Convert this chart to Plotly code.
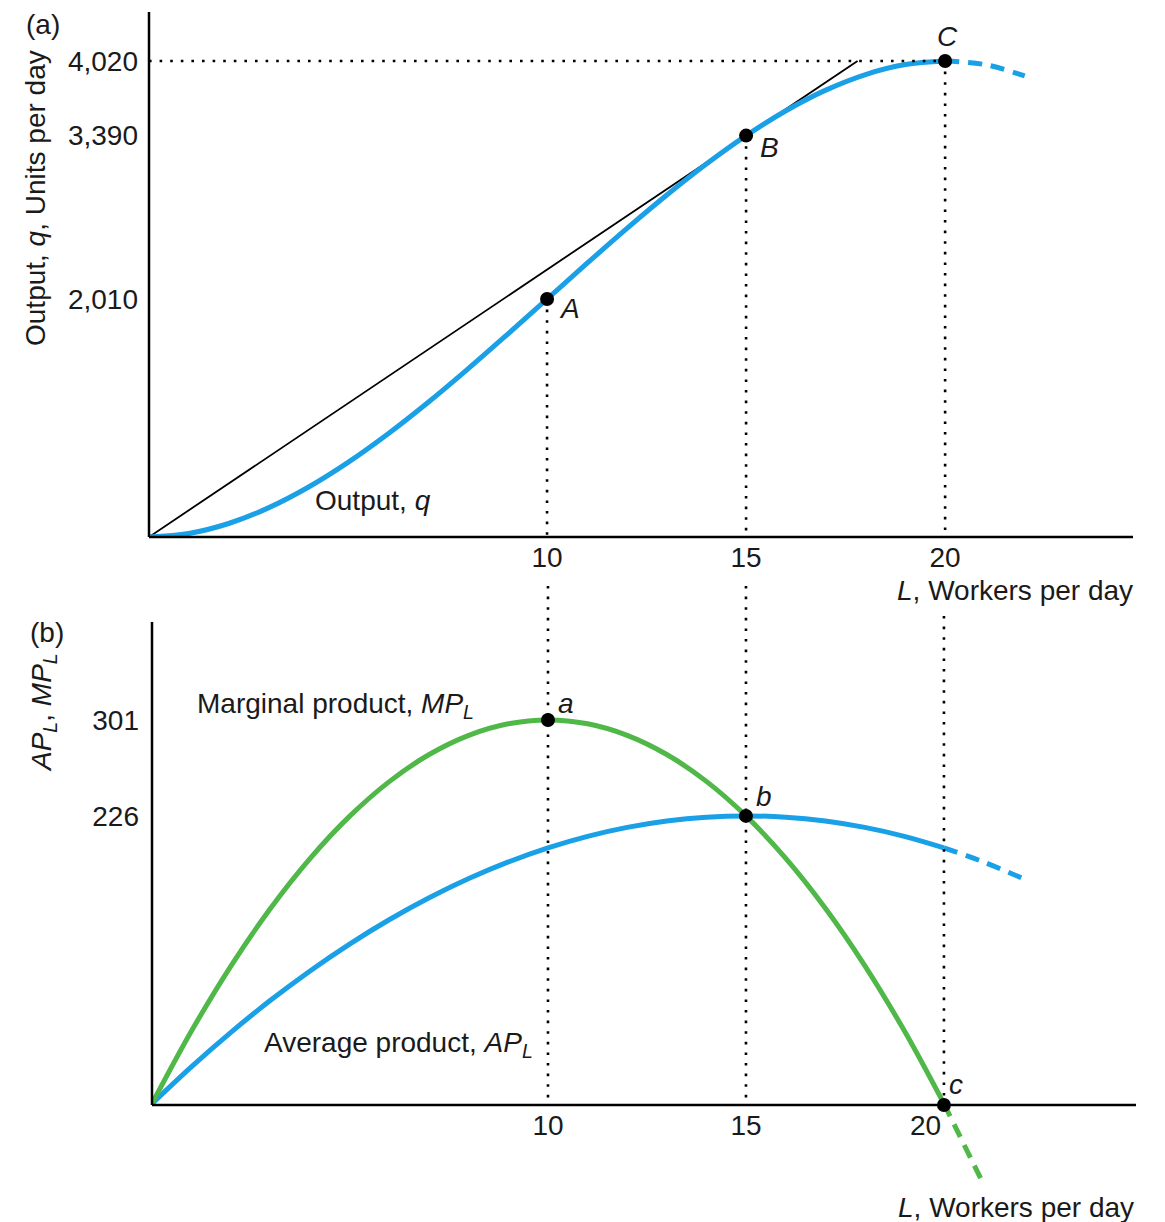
import plotly.graph_objects as go

# ---------------- data ----------------
L_solid = list(range(0, 21))
L_dash_q = [20, 21, 22]
q_solid = [0, 30, 114, 246, 420, 630, 870, 1134, 1416, 1710, 2010,
           2310, 2604, 2886, 3150, 3390, 3600, 3774, 3906, 3990, 4020]
q_dash = [4020, 3990, 3894]

ray_L = [0, 17.8]
ray_q = [0, 4020]

ap_solid = [1, 30, 57, 82, 105, 126, 145, 162, 177, 190, 201,
            210, 217, 222, 225, 226, 225, 222, 217, 210, 201]
L_dash_ap = [20, 21, 22]
ap_dash = [201, 190, 177]

mp_solid = [1, 58, 109, 154, 193, 226, 253, 274, 289, 298, 301,
            298, 289, 274, 253, 226, 193, 154, 109, 58, 1]
L_dash_mp = [20, 21]
mp_dash = [1, -62]

top_pts_L = [10, 15, 20]
top_pts_q = [2010, 3390, 4020]
top_pts_lbl = ["A", "B", "C"]

bot_pts_L = [10, 15, 20]
bot_pts_v = [301, 226, 0]
bot_pts_lbl = ["a", "b", "c"]

top_y_ticks = [2010, 3390, 4020]
top_x_ticks = [10, 15, 20]
bot_y_ticks = [226, 301]
bot_x_ticks = [10, 15]

BLUE = "#1aa0e6"
GREEN = "#4fb848"
FONT = "Liberation Sans, Arial, Helvetica, sans-serif"
OFF = 8  # page body margin
W, H = 1165 - OFF, 1222 - OFF


def px(v):
    return v - OFF


def fx(xp):
    return px(xp) / W


def fy(yp):
    return 1 - px(yp) / H


fig = go.Figure()

# top panel curves
fig.add_trace(go.Scatter(x=ray_L, y=ray_q, mode="lines",
                         line=dict(color="black", width=1.8), xaxis="x", yaxis="y"))
fig.add_trace(go.Scatter(x=L_solid, y=q_solid, mode="lines",
                         line=dict(color=BLUE, width=5, shape="spline"), xaxis="x", yaxis="y"))
fig.add_trace(go.Scatter(x=L_dash_q, y=q_dash, mode="lines",
                         line=dict(color=BLUE, width=5, shape="spline", dash="14px,9px"),
                         xaxis="x", yaxis="y"))

# bottom panel curves
fig.add_trace(go.Scatter(x=L_solid, y=ap_solid, mode="lines",
                         line=dict(color=BLUE, width=5, shape="spline"), xaxis="x2", yaxis="y2"))
fig.add_trace(go.Scatter(x=L_dash_ap, y=ap_dash, mode="lines",
                         line=dict(color=BLUE, width=5, shape="spline", dash="14px,9px"),
                         xaxis="x2", yaxis="y2"))
fig.add_trace(go.Scatter(x=L_solid, y=mp_solid, mode="lines",
                         line=dict(color=GREEN, width=5, shape="spline"), xaxis="x2", yaxis="y2"))
fig.add_trace(go.Scatter(x=L_dash_mp, y=mp_dash, mode="lines",
                         line=dict(color=GREEN, width=5, dash="14px,9px"),
                         xaxis="x2", yaxis="y2"))

DOT = dict(color="black", width=2.6, dash="2.6px,8px")
shapes = []
shapes.append(dict(type="line", xref="x", yref="y", x0=0, x1=top_pts_L[2],
                   y0=top_pts_q[2], y1=top_pts_q[2], line=DOT))
for Lv, qv in zip(top_pts_L, top_pts_q):
    shapes.append(dict(type="line", xref="x", yref="y", x0=Lv, x1=Lv, y0=qv, y1=0, line=DOT))
gap_start = {10: fy(586), 15: fy(586), 20: fy(616)}
for Lv in bot_pts_L:
    shapes.append(dict(type="line", xref="x2", yref="paper", x0=Lv, x1=Lv,
                       y0=gap_start[Lv], y1=fy(1105), line=DOT))
AX = dict(color="black", width=2.5)
shapes.append(dict(type="line", xref="x domain", yref="y domain", x0=0, x1=0, y0=0, y1=1, line=AX))
shapes.append(dict(type="line", xref="x domain", yref="y domain", x0=0, x1=1, y0=0, y1=0, line=AX))
shapes.append(dict(type="line", xref="x2 domain", yref="y2", x0=0, x1=0, y0=0, y1=377.6, line=AX))
shapes.append(dict(type="line", xref="x2 domain", yref="y2", x0=0, x1=1, y0=0, y1=0, line=AX))

# points
fig.add_trace(go.Scatter(x=top_pts_L, y=top_pts_q, mode="markers",
                         marker=dict(color="black", size=14), xaxis="x", yaxis="y", cliponaxis=False))
fig.add_trace(go.Scatter(x=bot_pts_L, y=bot_pts_v, mode="markers",
                         marker=dict(color="black", size=14), xaxis="x2", yaxis="y2", cliponaxis=False))

FS = 28
tf = dict(family=FONT, size=FS, color="#1a1a1a")
C = dict(xanchor="center", yanchor="middle", showarrow=False, font=tf)
ann = []
top_off = {"A": (22, -9), "B": (23, -12), "C": (2, 25)}
for Lv, qv, t in zip(top_pts_L, top_pts_q, top_pts_lbl):
    dx, dy = top_off[t]
    ann.append(dict(x=Lv, y=qv, xref="x", yref="y", text=f"<i>{t}</i>",
                    xshift=dx, yshift=dy, **C))
bot_off = {"a": (18, 16), "b": (18, 19), "c": (12, 20)}
for Lv, vv, t in zip(bot_pts_L, bot_pts_v, bot_pts_lbl):
    dx, dy = bot_off[t]
    ann.append(dict(x=Lv, y=vv, xref="x2", yref="y2", text=f"<i>{t}</i>",
                    xshift=dx, yshift=dy, **C))

L_ = dict(xanchor="left", yanchor="middle", showarrow=False, font=tf)
R_ = dict(xanchor="right", yanchor="middle", showarrow=False, font=tf)
ann.append(dict(x=4.13, y=312, xref="x", yref="y", text="Output, <i>q</i>", **L_))
ann.append(dict(x=1.09, y=312, xref="x2", yref="y2",
                text="Marginal product, <i>MP</i><sub><i>L</i></sub>", **L_))
ann.append(dict(x=2.78, y=47, xref="x2", yref="y2",
                text="Average product, <i>AP</i><sub><i>L</i></sub>", **L_))

ann.append(dict(x=fx(35), y=fy(198), xref="paper", yref="paper",
                text="Output, <i>q</i>, Units per day", textangle=-90, **C))
ann.append(dict(x=fx(1135), y=fy(590), xref="paper", yref="paper",
                text="<i>L</i>, Workers per day", **R_))
ann.append(dict(x=fx(44), y=fy(713), xref="paper", yref="paper",
                text="<i>AP</i><sub><i>L</i></sub>, <i>MP</i><sub><i>L</i></sub>",
                textangle=-90, **C))
ann.append(dict(x=fx(1136), y=fy(1207), xref="paper", yref="paper",
                text="<i>L</i>, Workers per day", **R_))
ann.append(dict(x=20, y=0, xref="x2", yref="y2", text="20",
                xshift=-18, yshift=-21, **C))
ann.append(dict(x=fx(43), y=1, xref="paper", yref="paper", text="(a)",
                xanchor="center", yanchor="top", borderpad=0, showarrow=False, font=tf))
ann.append(dict(x=fx(47), y=fy(632), xref="paper", yref="paper", text="(b)", **C))

axis_common = dict(showgrid=False, zeroline=False, showline=False, ticks="",
                   tickfont=tf, fixedrange=True)

fig.update_layout(
    width=W, height=H, margin=dict(l=0, r=0, t=0, b=0),
    paper_bgcolor="white", plot_bgcolor="white", showlegend=False,
    font=tf,
    xaxis=dict(domain=[fx(149), fx(1133)], range=[0, 24.72], anchor="y",
               tickvals=top_x_ticks, ticklabelstandoff=1, **axis_common),
    yaxis=dict(domain=[fy(537), fy(12)], range=[0, 4434], anchor="x",
               tickvals=top_y_ticks, tickformat=",d", ticklabelstandoff=10, **axis_common),
    xaxis2=dict(domain=[fx(152), fx(1136)], range=[0, 24.85], anchor="free",
                position=fy(1105),
                tickvals=bot_x_ticks, ticklabelstandoff=1, **axis_common),
    yaxis2=dict(domain=[fy(1213.7), fy(622)], range=[-85, 377.6], anchor="x2",
                tickvals=bot_y_ticks, ticklabelstandoff=12, **axis_common),
    shapes=shapes, annotations=ann,
)

fig.write_html("out.html")
